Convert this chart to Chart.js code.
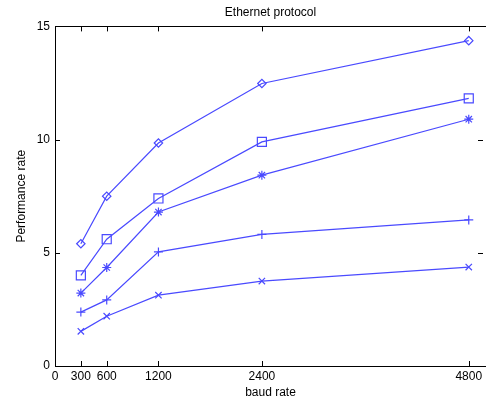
<!DOCTYPE html>
<html>
<head>
<meta charset="utf-8">
<script src="https://cdn.jsdelivr.net/npm/chart.js@4/dist/chart.umd.min.js"></script>
<style>
  html, body { margin: 0; padding: 0; background: #fff; overflow: hidden; }
  #wrap { position: relative; width: 486px; height: 404px; }
  #chart { display: block; }
</style>
</head>
<body>
<div id="wrap"><canvas id="chart"></canvas></div>
<script>
const baudRates = [300, 600, 1200, 2400, 4800]
const xTicks = [0, 300, 600, 1200, 2400, 4800]
const yTicks = [0, 5, 10, 15]

const diamondSeries = [5.4, 7.5, 9.85, 12.48, 14.37]
const squareSeries = [4.0, 5.6, 7.4, 9.9, 11.82]
const starSeries = [3.22, 4.35, 6.8, 8.43, 10.9]
const plusSeries = [2.38, 2.92, 5.04, 5.81, 6.45]
const crossSeries = [1.53, 2.2, 3.13, 3.75, 4.37]

const lineColor = '#4a4aff'
Chart.defaults.font.family = '"Liberation Sans", Arial, sans-serif'
Chart.defaults.font.size = 12
Chart.defaults.color = '#000000'

function series(values, style, radius) {
  return {
    data: values.map((v, i) => ({ x: baudRates[i], y: v })),
    borderColor: lineColor,
    borderWidth: 1.2,
    backgroundColor: 'rgba(0,0,0,0)',
    pointStyle: style,
    pointRadius: radius,
    pointBorderColor: lineColor,
    pointBorderWidth: 1.2,
    pointHoverRadius: radius,
    tension: 0
  }
}

// matlab style: ticks point inward on all four sides, box on top
const inwardTicks = {
  id: 'inwardTicks',
  afterDatasetsDraw(chart) {
    const { ctx, chartArea: a, scales } = chart
    const len = 5
    ctx.save()
    ctx.strokeStyle = '#000'
    ctx.lineWidth = 1
    ctx.beginPath()
    xTicks.forEach(v => {
      const px = Math.round(scales.x.getPixelForValue(v)) + 0.5
      ctx.moveTo(px, a.bottom); ctx.lineTo(px, a.bottom - len)
      ctx.moveTo(px, a.top); ctx.lineTo(px, a.top + len)
    })
    yTicks.forEach(v => {
      const py = Math.round(scales.y.getPixelForValue(v)) + 0.5
      ctx.moveTo(a.left, py); ctx.lineTo(a.left + len, py)
      ctx.moveTo(a.right - 3, py); ctx.lineTo(a.right - 3 - len, py)
    })
    ctx.moveTo(a.left, Math.round(a.top) + 0.5)
    ctx.lineTo(a.right, Math.round(a.top) + 0.5)
    ctx.stroke()
    ctx.restore()
  }
}

new Chart(document.getElementById('chart'), {
  type: 'line',
  data: {
    datasets: [
      series(diamondSeries, 'rectRot', 4.2),
      series(squareSeries, 'rect', 6.4),
      series(starSeries, 'star', 4.5),
      series(plusSeries, 'cross', 4.5),
      series(crossSeries, 'crossRot', 4.5)
    ]
  },
  options: {
    responsive: true,
    maintainAspectRatio: false,
    animation: false,
    // the plot box runs right up to the canvas edge, markers are not padded for
    layout: { autoPadding: false, padding: { left: 0, right: 0, top: 0, bottom: 0 } },
    plugins: {
      legend: { display: false },
      tooltip: { enabled: false },
      title: {
        display: true,
        text: 'Ethernet protocol',
        fullSize: false,
        font: { size: 12, weight: 'normal' },
        padding: { top: 5, bottom: 7 }
      }
    },
    scales: {
      x: {
        type: 'linear',
        min: 0,
        max: 5000,
        afterBuildTicks: scale => { scale.ticks = xTicks.map(v => ({ value: v })) },
        afterFit: scale => { scale.height = 38 },
        grid: { drawOnChartArea: false, drawTicks: false },
        border: { display: true, color: '#000', width: 1 },
        ticks: { padding: 3, maxRotation: 0, autoSkip: false, callback: v => String(v) },
        title: { display: true, text: 'baud rate', padding: { top: 0, bottom: 4 } }
      },
      y: {
        min: 0,
        max: 15,
        afterBuildTicks: scale => { scale.ticks = yTicks.map(v => ({ value: v })) },
        afterFit: scale => { scale.width = 55 },
        grid: { drawOnChartArea: false, drawTicks: false },
        border: { display: true, color: '#000', width: 1 },
        ticks: { padding: 5, callback: v => String(v) },
        title: { display: true, text: 'Performance rate', padding: { top: 14, bottom: 0 } }
      }
    }
  },
  plugins: [inwardTicks]
})
</script>
</body>
</html>
